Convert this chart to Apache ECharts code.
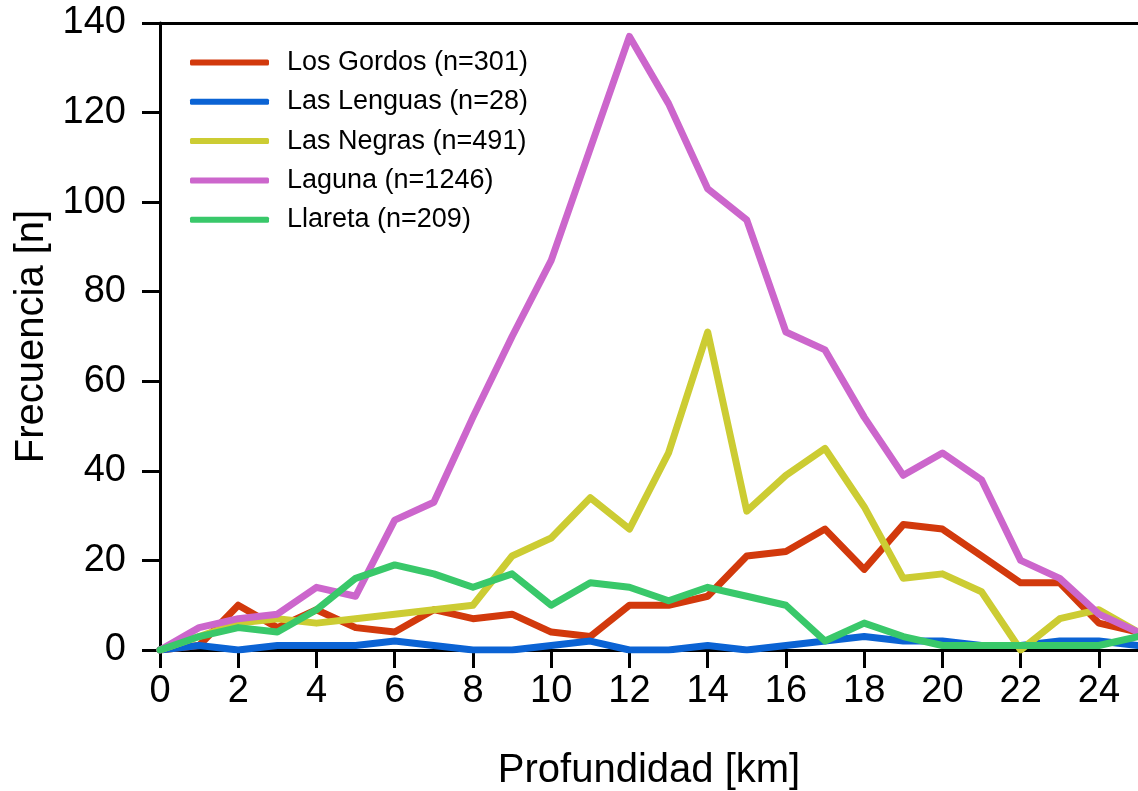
<!DOCTYPE html>
<html>
<head>
<meta charset="utf-8">
<title>Frecuencia por profundidad</title>
<script src="https://cdn.jsdelivr.net/npm/echarts@6/dist/echarts.min.js"></script>
<style>
  html, body { margin: 0; padding: 0; background: #ffffff; }
  #chart { width: 1138px; height: 791px; }
</style>
</head>
<body>
<div id="chart"></div>
<script>
// Depth bins (km)
const depths = [0,1,2,3,4,5,6,7,8,9,10,11,12,13,14,15,16,17,18,19,20,21,22,23,24,25];

// Event counts per depth bin for each zone
const losGordos  = [0,1,10,5,9,5,4,9,7,8,4,3,10,10,12,21,22,27,18,28,27,21,15,15,6,4];
const lasLenguas = [0,1,0,1,1,1,2,1,0,0,1,2,0,0,1,0,1,2,3,2,2,1,1,2,2,1];
const lasNegras  = [0,3,6,7,6,7,8,9,10,21,25,34,27,44,71,31,39,45,32,16,17,13,0,7,9,4];
const laguna     = [0,5,7,8,14,12,29,33,52,70,87,112,137,122,103,96,71,67,52,39,44,38,20,16,8,4];
const llareta    = [0,3,5,4,9,16,19,17,14,17,10,15,14,11,14,12,10,2,6,3,1,1,1,1,1,3];

const seriesNames = [
  'Los Gordos (n=301)',
  'Las Lenguas (n=28)',
  'Las Negras (n=491)',
  'Laguna (n=1246)',
  'Llareta (n=209)'
];
const seriesValues = [losGordos, lasLenguas, lasNegras, laguna, llareta];
const seriesColors = ['#d2390c', '#0b63d4', '#cccc33', '#cc66cc', '#39c86a'];

const xTitle = 'Profundidad [km]';
const yTitle = 'Frecuencia [n]';

const FONT = '"Liberation Sans", Arial, sans-serif';

const chart = echarts.init(document.getElementById('chart'), null, { renderer: 'canvas' });

const series = seriesNames.map((name, i) => ({
  name: name,
  type: 'line',
  data: depths.map((d, j) => [d, seriesValues[i][j]]),
  showSymbol: false,
  symbol: 'none',
  smooth: false,
  clip: true,
  color: seriesColors[i],
  lineStyle: { width: 7, color: seriesColors[i], cap: 'round', join: 'round' },
  z: 2 + i,
  emphasis: { disabled: true }
}));

chart.setOption({
  animation: false,
  backgroundColor: '#ffffff',
  grid: { left: 160, right: 0, top: 23, bottom: 141, containLabel: false, outerBoundsMode: 'none' },
  legend: {
    orient: 'vertical',
    left: 190,
    top: 49,
    padding: 0,
    icon: 'roundRect',
    itemWidth: 79,
    itemHeight: 6,
    itemGap: 12.3,
    data: seriesNames,
    textStyle: { fontFamily: FONT, fontSize: 27, color: '#000', lineHeight: 27, padding: [0, 0, 0, 13] },
    selectedMode: false
  },
  xAxis: [
    {
      type: 'value',
      min: 0,
      max: 25,
      interval: 2,
      name: xTitle,
      nameLocation: 'middle',
      nameGap: 101,
      nameTextStyle: { fontFamily: FONT, fontSize: 40, color: '#000' },
      axisLine: { show: true, onZero: false, lineStyle: { color: '#000', width: 3 } },
      axisTick: { show: true, inside: false, length: 18, lineStyle: { color: '#000', width: 3 } },
      axisLabel: { show: true, margin: 23, showMaxLabel: false, fontFamily: FONT, fontSize: 38, color: '#000' },
      splitLine: { show: false }
    },
    {
      type: 'value',
      position: 'top',
      min: 0,
      max: 25,
      axisLine: { show: true, onZero: false, lineStyle: { color: '#000', width: 3 } },
      axisTick: { show: false },
      axisLabel: { show: false },
      splitLine: { show: false }
    }
  ],
  yAxis: {
    type: 'value',
    min: 0,
    max: 140,
    interval: 20,
    name: yTitle,
    nameLocation: 'middle',
    nameGap: 102,
    nameTextStyle: { fontFamily: FONT, fontSize: 40, color: '#000' },
    axisLine: { show: true, onZero: false, lineStyle: { color: '#000', width: 3 } },
    axisTick: { show: true, inside: false, length: 18, lineStyle: { color: '#000', width: 3 } },
    axisLabel: { show: true, margin: 34, fontFamily: FONT, fontSize: 38, color: '#000' },
    splitLine: { show: false }
  },
  series: series
});
</script>
</body>
</html>
